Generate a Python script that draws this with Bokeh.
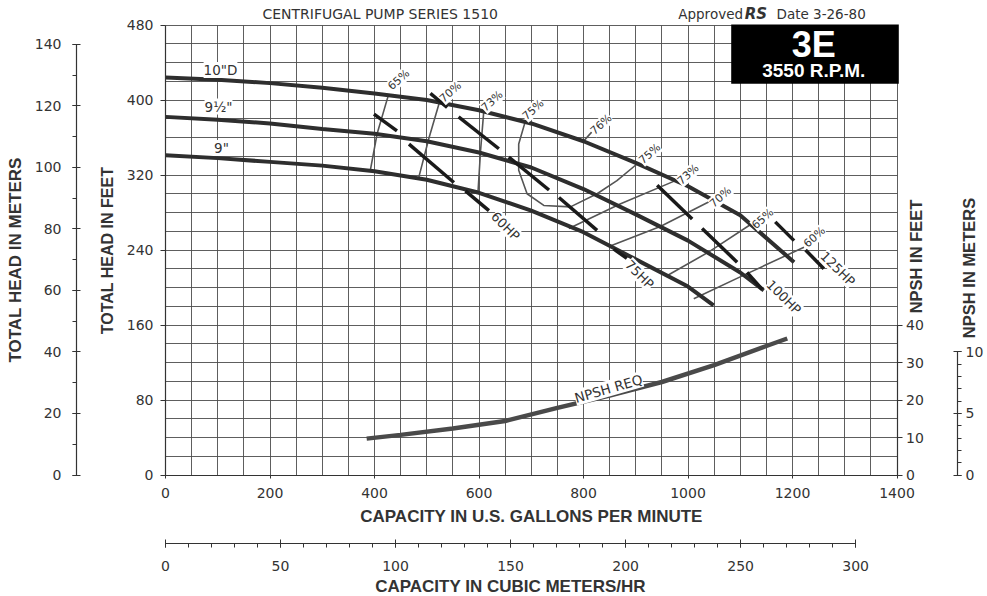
import math
from bokeh.plotting import figure
from bokeh.models import (Range1d, LinearAxis, SingleIntervalTicker, Label,
                          BoxAnnotation, Grid)
from bokeh.embed import file_html
from bokeh.resources import INLINE

# ---------------- data ----------------
# impeller head curves: capacity (US gpm) -> total head (ft)
gpm_10 = [0, 100, 200, 300, 400, 500, 600, 700, 800, 900, 1000, 1100, 1203]
head_10 = [424, 421.5, 418, 413, 407, 400, 389, 375, 356, 333, 308, 277, 227]
gpm_95 = [0, 100, 200, 300, 400, 500, 600, 700, 800, 900, 1000, 1100, 1145]
head_95 = [382, 379, 375, 369, 364, 356, 344, 328, 305, 278, 250, 216, 197]
gpm_9 = [0, 100, 200, 300, 400, 500, 600, 700, 800, 900, 1000, 1049]
head_9 = [341, 338, 334, 330, 324, 315, 301, 282, 259, 230, 201, 181]
curve_names = ['10"D', '9½"', '9"']

# iso-efficiency lines
eff_gpm = [[427, 405, 392], [525, 504, 485], [609, 603, 598],
           [689, 676, 676, 692, 724, 775, 826, 864, 903], [800, 816],
           [772, 870, 976], [850, 947, 1046], [958, 1040, 1122], [1011, 1110, 1222]]
eff_head = [[406, 364, 325], [399, 359, 318], [387, 346, 301],
            [378, 353, 325, 300, 287.5, 286, 300, 314, 332], [356, 366],
            [263, 289, 314], [244, 265, 293], [212, 238, 268], [188, 214, 243]]
eff_labels = ["65%", "70%", "73%", "75%", "76%", "75%", "73%", "70%", "65%", "60%"]

# horsepower lines (dashed bars): segment end points
hp_x0 = [399, 466, 574, 507, 561, 657, 753, 858, 941, 1027, 1113, 1167, 1225]
hp_y0 = [385, 353, 303, 407, 382, 339, 296, 241, 309, 263, 216, 270, 240]
hp_x1 = [443, 552, 619, 539, 638, 734, 826, 883, 1008, 1094, 1142, 1203, 1260]
hp_y1 = [367, 312, 282, 392, 348, 304, 261, 231, 273, 227, 198, 250, 220]
hp_labels = ["60HP", "75HP", "100HP", "125HP"]

# NPSH required (ft)
npsh_gpm = [385, 450, 550, 650, 750, 850, 950, 1050, 1150, 1190]
npsh_ft = [9.7, 10.7, 12.4, 14.4, 17.9, 21.2, 24.8, 29.3, 34.4, 36.4]

# unit conversions
GPM_PER_M3H = 4.402868
M_PER_FT = 0.3048
HEAD_PER_NPSH = 4.0          # chart scale: 1 ft NPSH = 4 ft of head scale

# ---------------- layout constants (pixels) ----------------
W, H = 987, 596
X0, KX = 165.0, 0.5225       # page x of 0 gpm, px per gpm
Y0, KY = 474.5, 0.9375       # page y of 0 ft, px per ft

def gx(px):                  # page x -> gpm
    return (px - X0) / KX

def hy(py):                  # page y -> head ft
    return (Y0 - py) / KY

p = figure(width=W, height=H, min_border=0,
           x_range=Range1d(gx(0), gx(W)), y_range=Range1d(hy(H), hy(0)),
           output_backend="svg", toolbar_location=None,
           background_fill_color="white", border_fill_color="white")
p.outline_line_color = None

xr, yr = p.x_range, p.y_range
p.extra_x_ranges = {"m3": Range1d(xr.start / GPM_PER_M3H, xr.end / GPM_PER_M3H)}
p.extra_y_ranges = {"m": Range1d(yr.start * M_PER_FT, yr.end * M_PER_FT),
                    "npsh": Range1d(yr.start / HEAD_PER_NPSH, yr.end / HEAD_PER_NPSH),
                    "npshm": Range1d(yr.start / HEAD_PER_NPSH * M_PER_FT,
                                     yr.end / HEAD_PER_NPSH * M_PER_FT)}

TICK_FONT = "DejaVu Sans"
BOLD_FONT = "Liberation Sans"
INK = "#333333"

def style_axis(ax, t_in, t_out, m_in, m_out, standoff, size="14px"):
    ax.axis_line_color = INK
    ax.axis_line_width = 1.2
    ax.major_tick_line_color = INK
    ax.minor_tick_line_color = INK
    ax.major_tick_in, ax.major_tick_out = t_in, t_out
    ax.minor_tick_in, ax.minor_tick_out = m_in, m_out
    ax.major_label_standoff = standoff
    ax.major_label_text_font = TICK_FONT
    ax.major_label_text_font_size = size
    ax.major_label_text_color = INK
    ax.axis_label_text_font = BOLD_FONT
    ax.axis_label_text_font_style = "bold"
    ax.axis_label_text_font_size = "17px"
    ax.axis_label_text_color = INK

# bottom: gpm axis (on the 0 ft line)
xa = p.xaxis[0]
xa.ticker = SingleIntervalTicker(interval=200, num_minor_ticks=0)
xa.bounds = (0, 1400)
xa.fixed_location = 0
style_axis(xa, 0, 3, 0, 0, 10)
xa.axis_label = "CAPACITY IN U.S. GALLONS PER MINUTE"
xa.axis_label_standoff = 5

# bottom: cubic metres per hour
m3 = LinearAxis(x_range_name="m3", bounds=(0, 300), fixed_location=hy(543.3),
                ticker=SingleIntervalTicker(interval=50, num_minor_ticks=5))
style_axis(m3, 4, 4, 0, 4, 13)
m3.axis_label = "CAPACITY IN CUBIC METERS/HR"
m3.axis_label_standoff = 3
p.add_layout(m3, "below")

# left: feet axis (on the 0 gpm line)
ya = p.yaxis[0]
ya.ticker = SingleIntervalTicker(interval=80, num_minor_ticks=0)
ya.bounds = (0, 480)
ya.fixed_location = 0
style_axis(ya, 0, 5, 0, 0, 7)
ya.axis_label = "TOTAL HEAD IN FEET"
ya.axis_label_text_font_size = "16px"
ya.axis_label_standoff = 8

# left: metres axis
ym = LinearAxis(y_range_name="m", bounds=(0, 140), fixed_location=gx(76),
                ticker=SingleIntervalTicker(interval=20, num_minor_ticks=2))
style_axis(ym, 4, 4, 0, 4, 11)
ym.axis_label = "TOTAL HEAD IN METERS"
ym.axis_label_standoff = 7
p.add_layout(ym, "left")

# right: NPSH feet axis (on the 1400 gpm line)
yn = LinearAxis(y_range_name="npsh", bounds=(0, 40), fixed_location=1400,
                ticker=SingleIntervalTicker(interval=10, num_minor_ticks=0))
style_axis(yn, 0, 5, 0, 0, 4)
p.add_layout(yn, "right")

# right: NPSH metres axis
ynm = LinearAxis(y_range_name="npshm", bounds=(0, 10), fixed_location=gx(957),
                 ticker=SingleIntervalTicker(interval=5, num_minor_ticks=5))
style_axis(ynm, 4, 4, 0, 4, 4)
p.add_layout(ynm, "right")

# grid, limited to the chart area
GRID_COLOR = "#4d4d4d"
if "cross_bounds" in Grid.properties():
    p.xgrid.ticker = SingleIntervalTicker(interval=50)
    p.ygrid.ticker = SingleIntervalTicker(interval=20)
    p.xgrid.bounds = (0, 1400)
    p.xgrid.cross_bounds = (0, 480)
    p.ygrid.bounds = (0, 480)
    p.ygrid.cross_bounds = (0, 1400)
    for g in (p.xgrid, p.ygrid):
        g.grid_line_color = GRID_COLOR
        g.grid_line_width = 1
        g.grid_line_alpha = 0.9
else:
    p.xgrid.visible = False
    p.ygrid.visible = False
    vx = list(range(0, 1401, 50))
    hyl = list(range(0, 481, 20))
    p.multi_line([[v, v] for v in vx], [[0, 480] for _ in vx],
                 line_color=GRID_COLOR, line_width=1, line_alpha=0.9)
    p.multi_line([[0, 1400] for _ in hyl], [[v, v] for v in hyl],
                 line_color=GRID_COLOR, line_width=1, line_alpha=0.9)

# ---------------- marks ----------------
p.multi_line(eff_gpm, eff_head, line_color="#555555", line_width=1.6)
for cx, cy in ((gpm_10, head_10), (gpm_95, head_95), (gpm_9, head_9)):
    p.line(cx, cy, line_color="#2e2e2e", line_width=4)
p.segment(hp_x0, hp_y0, hp_x1, hp_y1, line_color="#1a1a1a", line_width=3.5)
p.line(npsh_gpm, npsh_ft, y_range_name="npsh", line_color="#4a4a4a", line_width=4.5)

# ---------------- annotations ----------------
p.add_layout(BoxAnnotation(left=gx(730.7), right=gx(898.3), bottom=hy(83.3), top=hy(24),
                           fill_color="black", fill_alpha=1, line_color=None))

def lab(x, y, text, size, angle=0.0, font=TICK_FONT, style="normal", color=INK,
        bg="white", align="center"):
    p.add_layout(Label(x=x, y=y, text=text, text_font=font, text_font_size=size,
                       text_font_style=style, text_color=color, angle=angle,
                       text_align=align, text_baseline="middle",
                       background_fill_color=bg))

lab(gx(813.3), hy(44.2), "3E", "36px", font=BOLD_FONT, style="bold", color="white", bg=None)
lab(gx(813.3), hy(70.3), "3550 R.P.M.", "19px", font=BOLD_FONT, style="bold",
    color="white", bg=None)

lab(gx(379.7), hy(13.3), "CENTRIFUGAL PUMP SERIES 1510", "14px", bg=None)
lab(gx(742.5), hy(13.8), "Approved", "13.5px", bg=None, align="right")
lab(gx(755.5), hy(13.8), "RS", "15px", style="bold italic", bg=None)
lab(gx(776), hy(13.8), "Date 3-26-80", "13.5px", bg=None, align="left")

lab(gx(915), hy(256), "NPSH IN FEET", "16.5px", angle=math.pi / 2,
    font=BOLD_FONT, style="bold", bg=None)
lab(gx(968), hy(267.5), "NPSH IN METERS", "16.5px", angle=math.pi / 2,
    font=BOLD_FONT, style="bold", bg=None)

curve_lab_pos = [(220, 69.5), (218, 106), (221, 147.5)]
for (px, py), t in zip(curve_lab_pos, curve_names):
    lab(gx(px), hy(py), t, "13.5px")

eff_lab_pos = [(398.3, 79.3), (450, 91.7), (491.7, 100.7), (532.7, 109.3), (600.7, 124),
               (649.3, 153.3), (687.7, 174), (720, 196.7), (762.3, 218.3), (814, 236.7)]
for (px, py), t in zip(eff_lab_pos, eff_labels):
    lab(gx(px), hy(py), t, "11px", angle=math.radians(42))

hp_lab_pos = [(505, 225.7), (639, 274), (783.3, 296.7), (837.3, 268.3)]
for (px, py), t in zip(hp_lab_pos, hp_labels):
    lab(gx(px), hy(py), t, "13px", angle=math.radians(-45))

lab(gx(608), hy(388), "NPSH REQ", "13.5px", angle=math.radians(16))

open("out.html", "w").write(file_html(p, INLINE))
